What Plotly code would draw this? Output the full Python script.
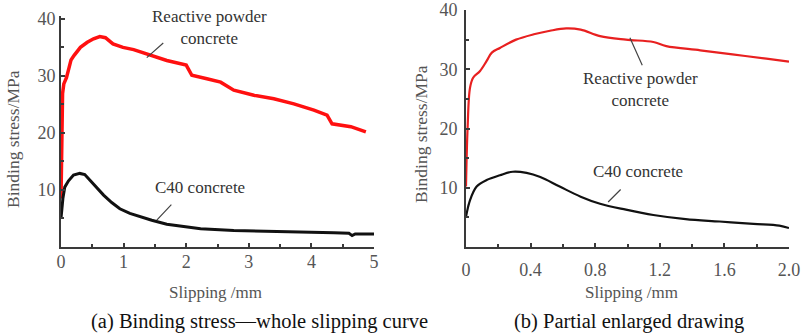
import plotly.graph_objects as go

# ---- Data: panel (a) whole slipping curve ----
rpc_a_x = [0.0, 0.01, 0.025, 0.045, 0.087, 0.128, 0.16, 0.21, 0.31, 0.42, 0.52, 0.62, 0.71, 0.83, 0.99, 1.16, 1.42, 1.69, 2.0, 2.09, 2.33, 2.55, 2.76, 3.08, 3.40, 3.72, 4.04, 4.25, 4.33, 4.63, 4.87]
rpc_a_y = [8.5, 20.0, 26.9, 28.6, 29.7, 31.4, 32.8, 33.6, 35.0, 35.9, 36.5, 36.9, 36.7, 35.6, 35.0, 34.6, 33.6, 32.7, 31.9, 30.1, 29.5, 28.9, 27.5, 26.6, 26.0, 25.1, 24.0, 23.1, 21.6, 21.1, 20.2]
c40_a_x = [0.0, 0.03, 0.06, 0.12, 0.2, 0.3, 0.38, 0.46, 0.58, 0.68, 0.81, 0.94, 1.1, 1.26, 1.45, 1.69, 2.0, 2.23, 2.76, 3.29, 3.83, 4.36, 4.6, 4.65, 4.7, 5.0]
c40_a_y = [5.0, 8.5, 10.5, 11.6, 12.6, 12.9, 12.7, 11.7, 10.2, 9.1, 7.8, 6.7, 5.9, 5.3, 4.7, 4.0, 3.5, 3.2, 2.9, 2.8, 2.6, 2.5, 2.4, 2.0, 2.3, 2.3]

# ---- Data: panel (b) partial enlarged drawing ----
rpc_b_x = [0.0, 0.01, 0.025, 0.045, 0.087, 0.128, 0.16, 0.21, 0.31, 0.42, 0.52, 0.62, 0.71, 0.83, 0.99, 1.16, 1.24, 1.45, 1.65, 1.86, 2.0]
rpc_b_y = [10.2, 20.2, 26.9, 28.6, 29.7, 31.4, 32.8, 33.6, 35.0, 35.9, 36.5, 36.9, 36.7, 35.6, 35.0, 34.6, 33.9, 33.2, 32.5, 31.8, 31.3]
c40_b_x = [0.0, 0.025, 0.066, 0.128, 0.21, 0.29, 0.375, 0.46, 0.58, 0.71, 0.83, 0.99, 1.16, 1.36, 1.57, 1.78, 1.94, 2.0]
c40_b_y = [5.1, 7.9, 10.2, 11.3, 12.1, 12.7, 12.5, 11.8, 10.2, 8.5, 7.3, 6.3, 5.4, 4.7, 4.3, 3.9, 3.6, 3.2]

xa_ticks = [0, 1, 2, 3, 4, 5]
xa_labels = ["0", "1", "2", "3", "4", "5"]
xb_ticks = [0, 0.4, 0.8, 1.2, 1.6, 2.0]
xb_labels = ["0", "0.4", "0.8", "1.2", "1.6", "2.0"]
y_ticks = [10, 20, 30, 40]
y_labels = ["10", "20", "30", "40"]

RED_A = "#ff1010"
RED_B = "#e82020"
BLACK = "#111111"
AXC = "#3a3a3a"
TICKC = "#555555"
FONT = "Liberation Serif"

W, H = 803, 335
def px_x(p):
    return p / W
def px_y(p):
    return (H - p) / H

fig = go.Figure()
fig.add_trace(go.Scatter(x=rpc_a_x, y=rpc_a_y, mode="lines", line=dict(color=RED_A, width=3.5), xaxis="x", yaxis="y"))
fig.add_trace(go.Scatter(x=c40_a_x, y=c40_a_y, mode="lines", line=dict(color=BLACK, width=3), xaxis="x", yaxis="y"))
fig.add_trace(go.Scatter(x=rpc_b_x, y=rpc_b_y, mode="lines", line=dict(color=RED_B, width=2.2, shape="spline"), xaxis="x2", yaxis="y2"))
fig.add_trace(go.Scatter(x=c40_b_x, y=c40_b_y, mode="lines", line=dict(color=BLACK, width=2.2, shape="spline"), xaxis="x2", yaxis="y2"))

axis_common = dict(showline=True, linecolor=AXC, linewidth=2, showgrid=False, zeroline=False,
                   ticks="inside", ticklen=4, tickwidth=1.5, tickcolor=AXC, automargin=False,
                   tickfont=dict(family=FONT, size=18, color=TICKC), mirror=False)

fig.update_layout(
    width=W, height=H, margin=dict(l=0, r=0, t=0, b=0),
    paper_bgcolor="white", plot_bgcolor="white", showlegend=False,
    font=dict(family=FONT, color=TICKC),
    xaxis=dict(domain=[px_x(61), px_x(374)], range=[0, 5], anchor="y",
               tickvals=xa_ticks, ticktext=xa_labels, ticklabelstandoff=-3,
               minor=dict(dtick=0.5, ticks="inside", ticklen=3, tickcolor=AXC),
               **axis_common),
    yaxis=dict(domain=[px_y(247), px_y(16)], range=[0, 40.5], anchor="x",
               tickvals=y_ticks, ticktext=y_labels,
               minor=dict(dtick=5, ticks="inside", ticklen=3, tickcolor=AXC),
               **axis_common),
    xaxis2=dict(domain=[px_x(466), px_x(789)], range=[0, 2.0], anchor="y2",
                tickvals=xb_ticks, ticktext=xb_labels, ticklabelstandoff=5,
                minor=dict(dtick=0.2, ticks="inside", ticklen=3, tickcolor=AXC),
                **axis_common),
    yaxis2=dict(domain=[px_y(247), px_y(10)], range=[0, 40], anchor="x2",
                tickvals=y_ticks, ticktext=y_labels, ticklabelstandoff=3,
                minor=dict(dtick=5, ticks="inside", ticklen=3, tickcolor=AXC),
                **axis_common),
)

title_font = dict(family=FONT, size=17, color=TICKC)
ytitle_font = dict(family=FONT, size=17.5, color=TICKC)
lab_font = dict(family=FONT, size=17, color="#333333")
ann = []
# Axis titles
ann.append(dict(x=px_x(215), y=px_y(292), xref="paper", yref="paper", xanchor="center", yanchor="middle", text="Slipping /mm", showarrow=False, font=title_font))
ann.append(dict(x=px_x(631), y=px_y(292), xref="paper", yref="paper", xanchor="center", yanchor="middle", text="Slipping /mm", showarrow=False, font=title_font))
ann.append(dict(x=px_x(13), y=px_y(139), xref="paper", yref="paper", xanchor="center", yanchor="middle", textangle=-90, text="Binding stress/MPa", showarrow=False, font=ytitle_font))
ann.append(dict(x=px_x(421), y=px_y(134), xref="paper", yref="paper", xanchor="center", yanchor="middle", textangle=-90, text="Binding stress/MPa", showarrow=False, font=ytitle_font))
# Panel (a) labels
ann.append(dict(x=2.38, y=38.5, xref="x", yref="y", text="Reactive powder<br>concrete", showarrow=False, font=lab_font))
ann.append(dict(x=1.37, y=33.2, xref="x", yref="y", ax=18, ay=-16, text="", showarrow=True, arrowhead=0, arrowwidth=1.2, arrowcolor="#444"))
ann.append(dict(x=2.22, y=10.5, xref="x", yref="y", text="C40 concrete", showarrow=False, font=lab_font))
ann.append(dict(x=1.53, y=4.7, xref="x", yref="y", ax=16, ay=-17, text="", showarrow=True, arrowhead=0, arrowwidth=1.2, arrowcolor="#444"))
# Panel (b) labels
ann.append(dict(x=1.08, y=26.5, xref="x2", yref="y2", text="Reactive powder<br>concrete", showarrow=False, font=lab_font))
ann.append(dict(x=1.015, y=35.3, xref="x2", yref="y2", ax=13, ay=29, text="", showarrow=True, arrowhead=0, arrowwidth=1.2, arrowcolor="#444"))
ann.append(dict(x=1.065, y=12.66, xref="x2", yref="y2", text="C40 concrete", showarrow=False, font=lab_font))
ann.append(dict(x=0.88, y=7.6, xref="x2", yref="y2", ax=14, ay=-14, text="", showarrow=True, arrowhead=0, arrowwidth=1.2, arrowcolor="#444"))
# Captions
cap_font = dict(family=FONT, size=20.5, color="#111111")
ann.append(dict(x=px_x(259), y=px_y(321), xref="paper", yref="paper", xanchor="center", yanchor="middle", text="(a) Binding stress\u2014whole slipping curve", showarrow=False, font=cap_font))
ann.append(dict(x=px_x(629), y=px_y(321), xref="paper", yref="paper", xanchor="center", yanchor="middle", text="(b) Partial enlarged drawing", showarrow=False, font=cap_font))
fig.update_layout(annotations=ann)

fig.write_html("out.html", config={"displayModeBar": False},
               post_script="document.body.style.margin='0px';document.body.style.overflow='hidden';")
